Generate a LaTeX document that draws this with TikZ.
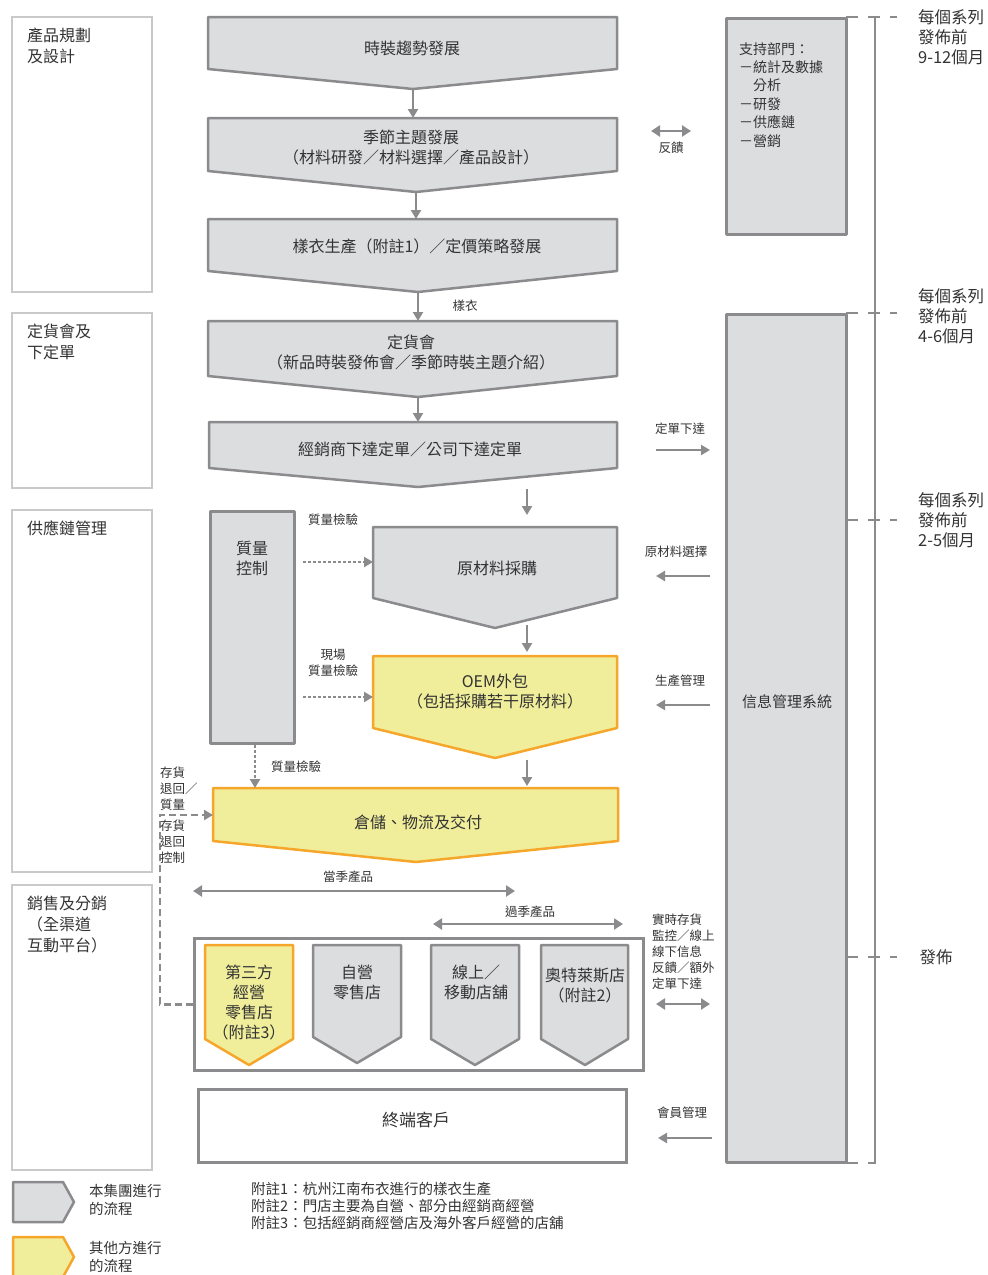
\documentclass[tikz,border=0pt]{standalone}
\usepackage{fontspec}
\setmainfont{Noto Sans CJK TC}
\usetikzlibrary{arrows.meta,positioning}

\definecolor{boxgray}{HTML}{DCDDDF}
\definecolor{linegray}{HTML}{8B8B8D}
\definecolor{framegray}{HTML}{C9C9C9}
\definecolor{oemyellow}{HTML}{F0EE9B}
\definecolor{oemorange}{HTML}{F5A62B}
\definecolor{txtgray}{HTML}{333333}

\tikzset{
  graybox/.style={draw=linegray, fill=boxgray, line width=2.5pt, line join=round},
  yellowbox/.style={draw=oemorange, fill=oemyellow, line width=2.5pt, line join=round},
  stagebox/.style={draw=framegray, fill=white, line width=2.5pt},
  plainbox/.style={draw=linegray, fill=white, line width=2.5pt},
  flow/.style={draw=linegray, line width=2.8pt, -{Triangle[width=10pt,length=9pt]}},
  twoway/.style={draw=linegray, line width=2.8pt, {Triangle[width=11pt,length=9pt]}-{Triangle[width=11pt,length=9pt]}},
  check/.style={flow, dash pattern=on 2.5pt off 2.5pt},
  ret/.style={draw=linegray, line width=2.5pt, dash pattern=on 7pt off 4pt},
  tick/.style={draw=linegray, line width=2.5pt, dash pattern=on 12pt off 10pt},
  steptext/.style={font=\fontsize{16}{20}\selectfont, text=txtgray, align=center, inner sep=0pt},
  lbl/.style={font=\fontsize{12.5}{16}\selectfont, text=txtgray, align=center, inner sep=0pt},
  stagetitle/.style={font=\fontsize{16}{21}\selectfont, text=txtgray, align=left, inner sep=0pt, anchor=north west}
}

% one step of the flow: name, style, left x, right x, top y, side y, tip y, tip x
\newcommand{\flowstep}[8]{%
  \path[#2] (#3,#5) -- (#4,#5) -- (#4,#6) -- (#8,#7) -- (#3,#6) -- cycle;
  \coordinate (#1-nw) at (#3,#5);
  \coordinate (#1-n) at (#8,#5);
  \coordinate (#1-s) at (#8,#7);
}

\begin{document}
\begin{tikzpicture}[x=1pt,y=-1pt]
	\clip (0,0) rectangle (988,1275);

	% stages on the left
	\draw[stagebox] (12,17) rectangle (152,292);
	\node[stagetitle] (plan) at (27,28) {產品規劃\\及設計};
	\draw[stagebox] (12,313) rectangle (152,488);
	\node[stagetitle] (fairstage) at (27,324) {定貨會及\\下定單};
	\draw[stagebox] (12,510) rectangle (152,872);
	\node[stagetitle] (supply) at (27,521) {供應鏈管理};
	\draw[stagebox] (12,885) rectangle (152,1170);
	\node[stagetitle] (sales) at (27,896) {銷售及分銷\\（全渠道\\互動平台）};

	% main flow
	\flowstep{trend}{graybox}{208}{617}{17}{69}{89}{413}
	\node[steptext] (trendtxt) at (412,48) {時裝趨勢發展};
	\flowstep{theme}{graybox}{208}{617}{118}{171}{192}{416}
	\node[steptext] (themetxt) at (411,148) {季節主題發展\\（材料研發／材料選擇／產品設計）};
	\flowstep{sample}{graybox}{208}{617}{219}{271}{292}{418}
	\node[steptext] (sampletxt) at (417,246) {樣衣生產（附註1）／定價策略發展};
	\flowstep{fair}{graybox}{208}{617}{321}{376}{397}{418}
	\node[steptext] (fairtxt) at (411,352) {定貨會\\（新品時裝發佈會／季節時裝主題介紹）};
	\flowstep{order}{graybox}{209}{617}{422}{468}{487}{418}
	\node[steptext] (ordertxt) at (410,449) {經銷商下達定單／公司下達定單};
	\flowstep{material}{graybox}{373}{617}{527}{598}{628}{495}
	\node[steptext] (materialtxt) at (497,568) {原材料採購};
	\flowstep{oem}{yellowbox}{373}{617}{656}{728}{758}{495}
	\node[steptext] (oemtxt) at (495,691) {OEM外包\\（包括採購若干原材料）};
	\flowstep{logistics}{yellowbox}{213}{618}{788}{841}{862}{416}
	\node[steptext] (logisticstxt) at (418,822) {倉儲、物流及交付};

	\draw[flow] (trend-s) -- (trend-s |- theme-n);
	\draw[flow] (theme-s) -- (theme-s |- sample-n);
	\draw[flow] (sample-s) -- (sample-s |- fair-n);
	\node[lbl] (samplelbl) at (465,306) {樣衣};
	\draw[flow] (fair-s) -- (fair-s |- order-n);
	\coordinate (ordout) at (527,489);
	\draw[flow, shorten >=12pt] (ordout) -- (ordout |- material-n);
	\coordinate (matout) at (527,625);
	\draw[flow, shorten >=4pt] (matout) -- (matout |- oem-n);
	\coordinate (oemout) at (527,760);
	\draw[flow, shorten >=2pt] (oemout) -- (oemout |- logistics-n);

	% quality control
	\node[graybox, minimum width=84pt, minimum height=232pt, anchor=north west, inner sep=0pt] (qc) at (209,510) {};
	\node[steptext] (qctxt) at (252,558) {質量\\控制};
	\coordinate (qc1) at (303,562);
	\coordinate (qc2) at (303,697);
	\coordinate (qc3) at (255,745);
	\draw[check] (qc1) -- (qc1 -| material-nw);
	\draw[check] (qc2) -- (qc2 -| oem-nw);
	\draw[check] (qc3) -- (qc3 |- logistics-nw);
	\node[lbl] (qclbl1) at (333,520) {質量檢驗};
	\node[lbl] (qclbl2) at (333,663) {現場\\質量檢驗};
	\node[lbl] (qclbl3) at (296,767) {質量檢驗};

	% shops
	\node[plainbox, minimum width=449pt, minimum height=132pt, anchor=north west, inner sep=0pt] (stores) at (193,937) {};
	\flowstep{third}{yellowbox}{205}{293}{945}{1039}{1065}{249}
	\node[steptext] (thirdtxt) at (249,1002) {第三方\\經營\\零售店\\（附註3）};
	\flowstep{own}{graybox}{313}{401}{945}{1037}{1063}{357}
	\node[steptext] (owntxt) at (357,982) {自營\\零售店};
	\flowstep{online}{graybox}{431}{519}{945}{1039}{1065}{475}
	\node[steptext] (onlinetxt) at (476,982) {線上／\\移動店舖};
	\flowstep{outlet}{graybox}{541}{628}{945}{1039}{1065}{585}
	\node[steptext] (outlettxt) at (585,986) {奧特萊斯店\\（附註2）};

	% returns
	\coordinate (back) at (160,815);
	\draw[ret, -{Triangle[width=10pt,length=9pt]}] (stores.west) -| (back) -- (back -| logistics-nw);
	\node[lbl, align=left, anchor=north west] (retlbl1) at (160,767) {存貨\\退回／\\質量};
	\node[lbl, align=left, anchor=north west] (retlbl2) at (160,820) {存貨\\退回\\控制};

	% seasons
	\coordinate (nowl) at (193,891);
	\coordinate (nowr) at (515,891);
	\draw[twoway] (nowl) -- (nowr);
	\node[lbl] (nowlbl) at (348,877) {當季產品};
	\coordinate (pastl) at (433,924);
	\coordinate (pastr) at (623,924);
	\draw[twoway] (pastl) -- (pastr);
	\node[lbl] (pastlbl) at (530,912) {過季產品};

	% customers
	\node[plainbox, minimum width=428pt, minimum height=73pt, anchor=north west, inner sep=0pt] (customer) at (197,1088) {};
	\node[steptext, font=\fontsize{17}{20}\selectfont] (customertxt) at (416,1120) {終端客戶};

	% right column
	\node[graybox, minimum width=120pt, minimum height=216pt, anchor=north west, inner sep=0pt] (support) at (725,17) {};
	\node[stagetitle, font=\fontsize{14}{18.4}\selectfont] (supporttxt) at (739,42) {支持部門：\\－統計及數據\\　分析\\－研發\\－供應鏈\\－營銷};
	\node[graybox, minimum width=120pt, minimum height=848pt, anchor=north west, inner sep=0pt] (infosys) at (725,313) {};
	\node[steptext, font=\fontsize{15}{18}\selectfont] (infosystxt) at (787,702) {信息管理系統};

	\coordinate (fbl) at (651,131);
	\coordinate (fbr) at (691,131);
	\draw[twoway] (fbl) -- (fbr);
	\node[lbl] (fblbl) at (671,148) {反饋};
	\coordinate (ordl) at (656,450);
	\coordinate (ordr) at (710,450);
	\draw[flow] (ordl) -- (ordr);
	\node[lbl] (ordlbl) at (680,429) {定單下達};
	\coordinate (matl) at (656,576);
	\coordinate (matr) at (710,576);
	\draw[flow] (matr) -- (matl);
	\node[lbl] (matlbl) at (676,552) {原材料選擇};
	\coordinate (prodl) at (656,705);
	\coordinate (prodr) at (710,705);
	\draw[flow] (prodr) -- (prodl);
	\node[lbl] (prodlbl) at (680,681) {生產管理};
	\coordinate (stockl) at (656,1004);
	\coordinate (stockr) at (710,1004);
	\draw[twoway] (stockl) -- (stockr);
	\node[lbl, align=left, anchor=north west] (stocklbl) at (652,914) {實時存貨\\監控／線上\\線下信息\\反饋／額外\\定單下達};
	\coordinate (memberl) at (658,1138);
	\coordinate (memberr) at (712,1138);
	\draw[flow] (memberr) -- (memberl);
	\node[lbl] (memberlbl) at (682,1113) {會員管理};

	% timeline
	\draw[linegray, line width=2.5pt] (875,17) -- (875,1163);
	\draw[tick] (846,17) -- (897,17);
	\draw[tick] (846,313) -- (897,313);
	\draw[tick] (846,520) -- (897,520);
	\draw[tick] (846,957) -- (897,957);
	\draw[tick] (846,1163) -- (876,1163);
	\node[stagetitle, font=\fontsize{16.5}{20}\selectfont] (t1) at (918,9) {每個系列\\發佈前\\9-12個月};
	\node[stagetitle, font=\fontsize{16.5}{20}\selectfont] (t2) at (918,288) {每個系列\\發佈前\\4-6個月};
	\node[stagetitle, font=\fontsize{16.5}{20}\selectfont] (t3) at (918,492) {每個系列\\發佈前\\2-5個月};
	\node[steptext, font=\fontsize{16.5}{20}\selectfont] (t4) at (936,957) {發佈};

	% legend and notes
	\path[graybox] (13,1182) -- (63,1182) -- (74,1202) -- (63,1222) -- (13,1222) -- cycle;
	\node[stagetitle, font=\fontsize{14.5}{18}\selectfont, anchor=west] (ownlegend) at (89,1200) {本集團進行\\的流程};
	\path[yellowbox] (13,1237) -- (63,1237) -- (74,1257) -- (63,1277) -- (13,1277) -- cycle;
	\node[stagetitle, font=\fontsize{14.5}{18}\selectfont, anchor=west] (otherlegend) at (89,1257) {其他方進行\\的流程};
	\node[stagetitle, font=\fontsize{14.5}{17}\selectfont] (notes) at (251,1182) {附註1：杭州江南布衣進行的樣衣生產\\附註2：門店主要為自營、部分由經銷商經營\\附註3：包括經銷商經營店及海外客戶經營的店舖};
\end{tikzpicture}
\end{document}
